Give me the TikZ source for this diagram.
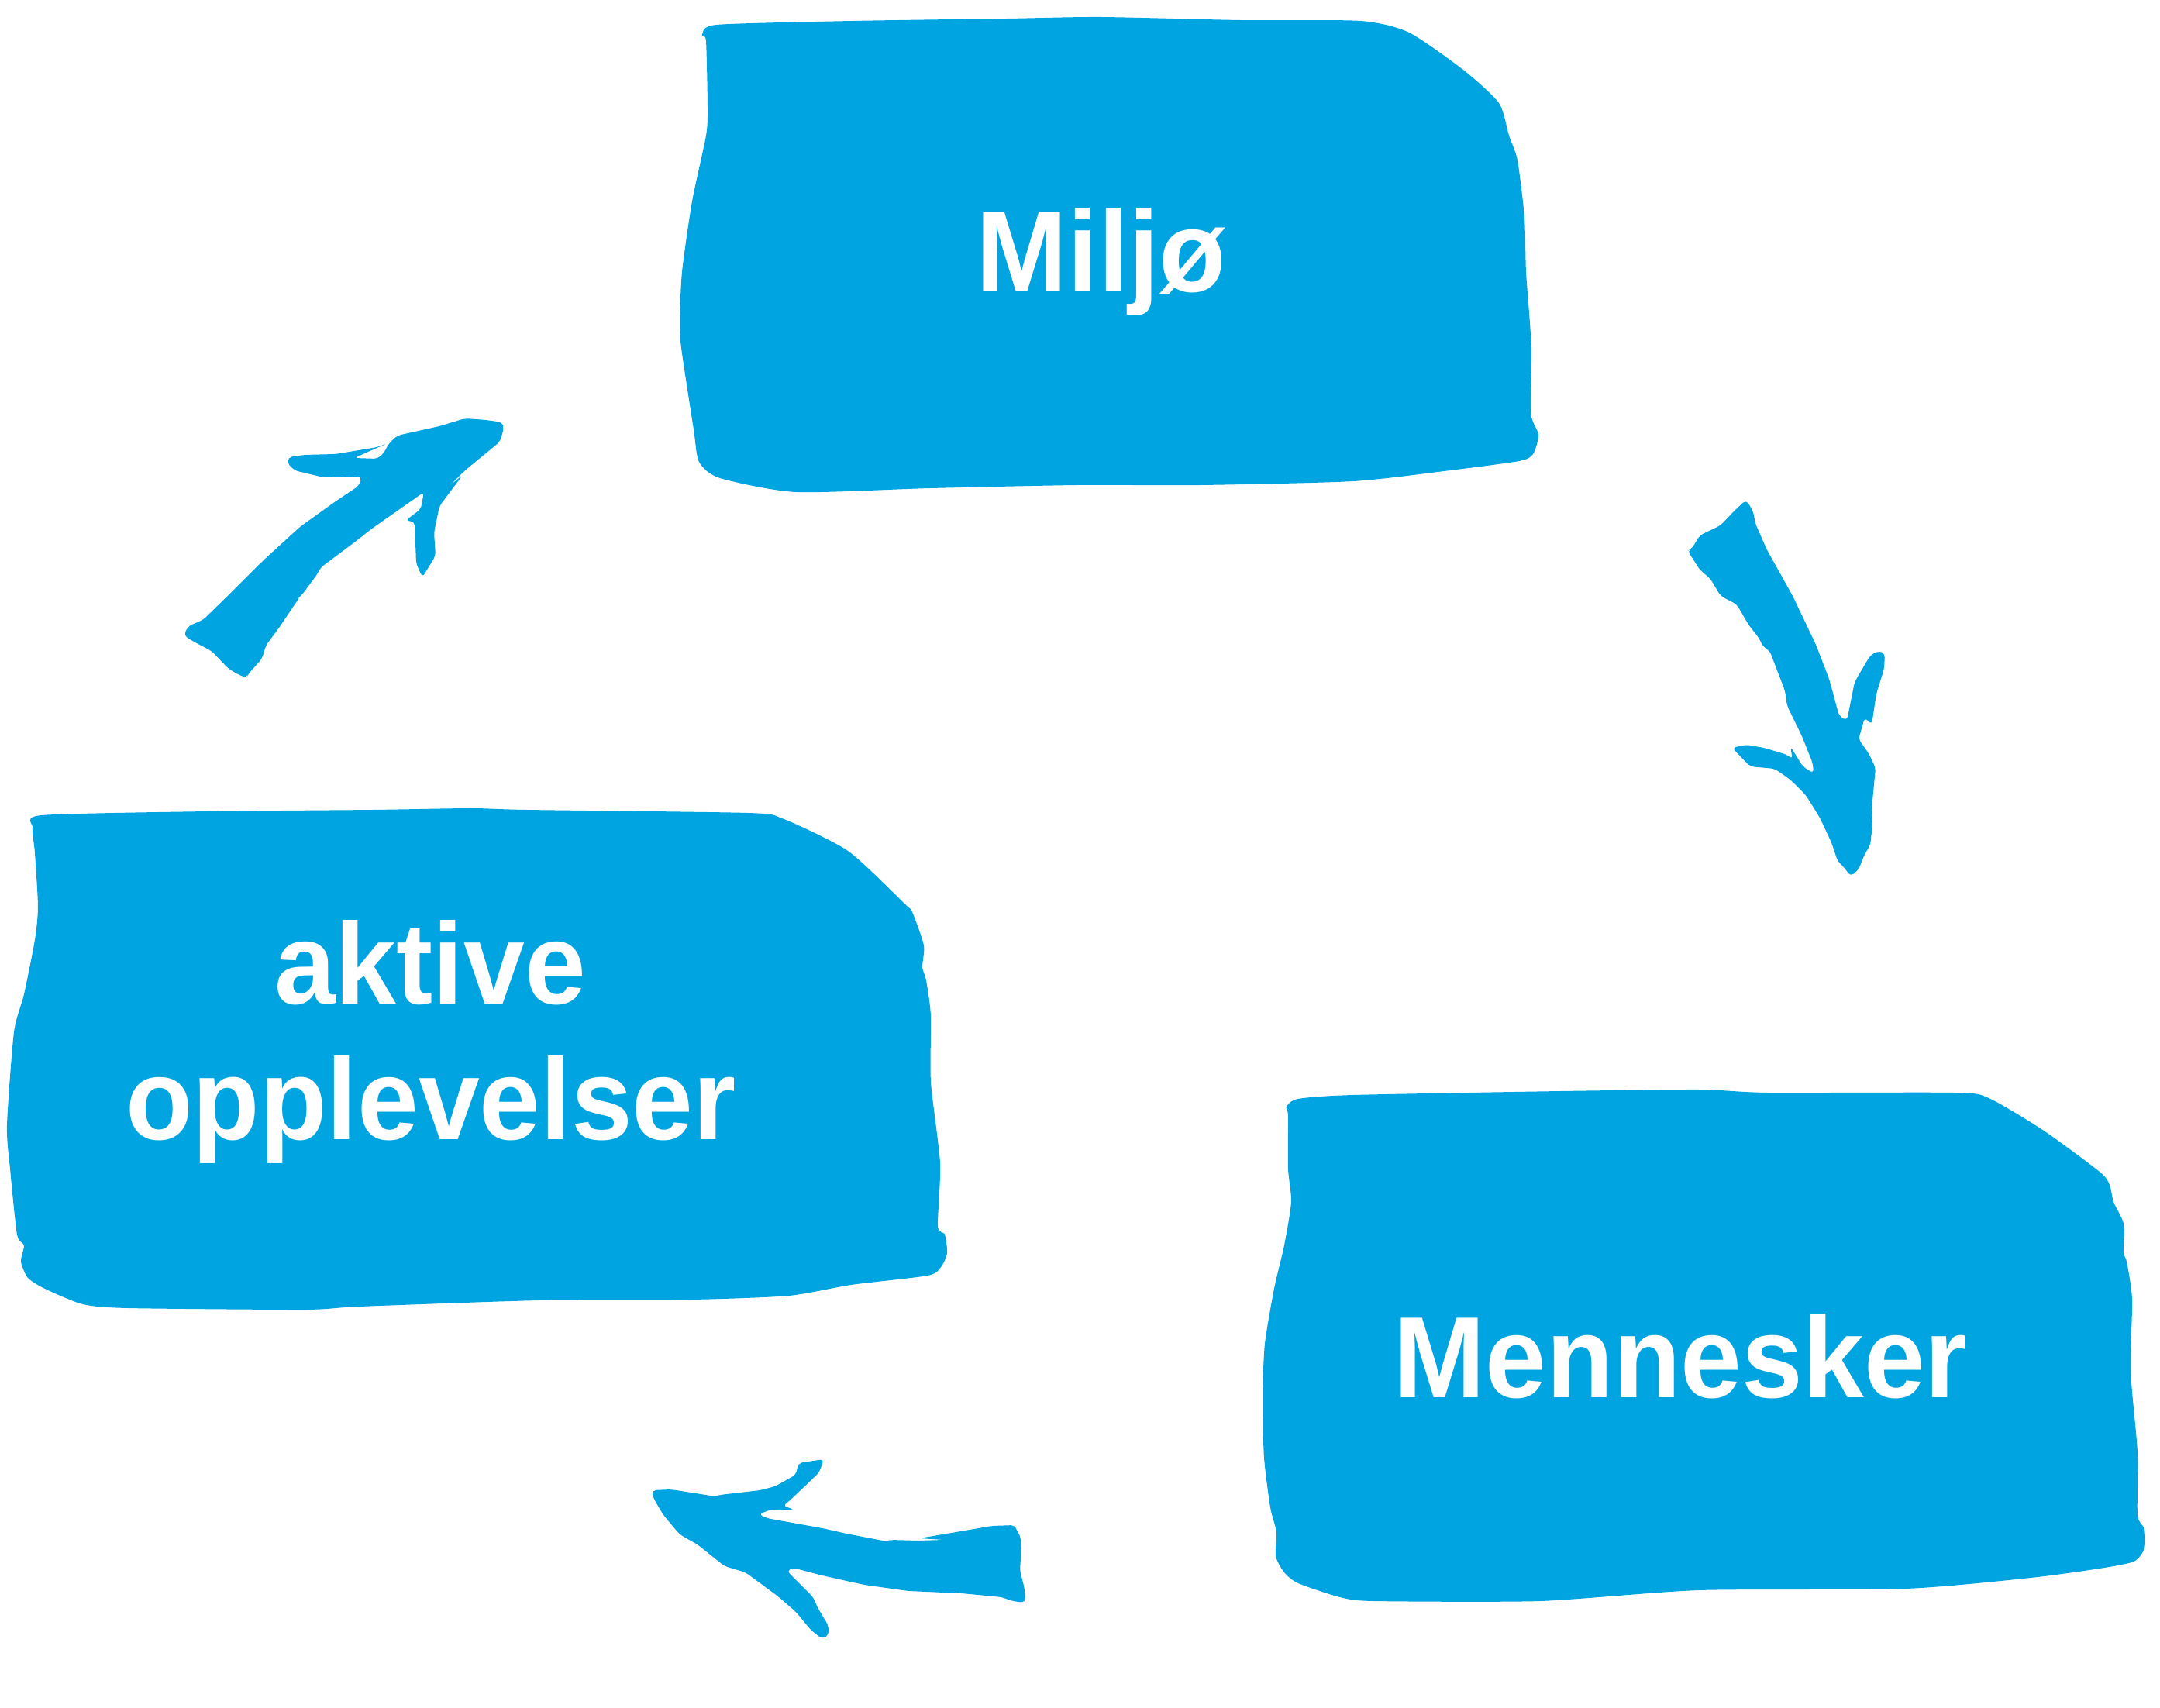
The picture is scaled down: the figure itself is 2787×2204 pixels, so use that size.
\documentclass[tikz,border=0pt]{standalone}
\usepackage{fontspec}
\usepackage{xcolor}
\newfontfamily\boxfont{Liberation Sans}[FakeStretch=0.95]
\definecolor{brandblue}{HTML}{00A4E1}
\tikzset{
  brush/.style={fill=brandblue, draw=none},
  brushstroke/.style={brush, rounded corners=1.5pt},
  boxtext/.style={text=white, font=\boxfont\bfseries\fontsize{42.4}{50}\selectfont, anchor=base, inner sep=0pt}
}

\begin{document}
\begin{tikzpicture}[x=0.01cm, y=-0.01cm]
  \useasboundingbox (0,0) rectangle (2787,2204);
  % brush boxes
  \fill[brush] plot[smooth cycle, tension=0.4] coordinates {(906,45) (925,32) (1100,27) (1300,24) (1420,22) (1600,26) (1755,27) (1818,42) (1889,91) (1934,133) (1947,175) (1958,207) (1967,281) (1969,351) (1976,449) (1975,533) (1985,561) (1978,586) (1960,595) (1871,607) (1746,621) (1550,626) (1390,626) (1200,630) (1027,635) (929,617) (902,596) (895,554) (880,456) (877,421) (880,351) (893,260) (911,175) (913,140) (911,53)};
  \fill[brush] plot[smooth cycle, tension=0.4] coordinates {(42,1068) (54,1052) (268,1047) (482,1045) (607,1043) (679,1045) (964,1049) (1009,1056) (1094,1098) (1168,1167) (1177,1177) (1192,1220) (1190,1248) (1195,1265) (1201,1311) (1201,1396) (1213,1501) (1210,1582) (1219,1593) (1222,1617) (1214,1635) (1197,1646) (1098,1658) (1018,1672) (893,1677) (695,1678) (464,1686) (393,1690) (165,1688) (107,1683) (58,1663) (36,1649) (27,1628) (31,1607) (22,1593) (13,1508) (9,1452) (18,1332) (31,1283) (45,1213) (49,1170) (45,1100)};
  \fill[brush] plot[smooth cycle, tension=0.4] coordinates {(1660,1428) (1675,1418) (1746,1413) (2014,1408) (2192,1406) (2281,1410) (2522,1410) (2566,1417) (2637,1459) (2709,1512) (2722,1529) (2727,1551) (2740,1579) (2740,1617) (2744,1628) (2751,1677) (2749,1769) (2758,1874) (2758,1955) (2767,1973) (2767,1998) (2753,2015) (2709,2024) (2620,2036) (2459,2050) (2192,2052) (1987,2066) (1773,2066) (1729,2061) (1675,2043) (1657,2029) (1646,2008) (1647,1977) (1639,1945) (1631,1881) (1629,1804) (1632,1734) (1644,1663) (1657,1607) (1666,1551) (1662,1508) (1662,1440)};
  % brush arrows
  \fill[brushstroke] (237,820) -- (243,808) -- (262,800) -- (300,763) -- (340,723) -- (387,680) -- (433,647) -- (463,627) -- (467,615) -- (417,616) -- (380,607) -- (371,598) -- (372,590) -- (393,587) -- (433,586) -- (487,577) -- (500,572) -- (457,591) -- (487,592) -- (495,585) -- (502,572) -- (513,562) -- (567,550) -- (600,540) -- (627,542) -- (648,545) -- (650,553) -- (645,570) -- (600,607) -- (580,627) -- (597,613) -- (567,653) -- (560,687) -- (562,717) -- (545,745) -- (537,727) -- (535,673) -- (523,672) -- (543,657) -- (547,635) -- (480,682) -- (457,700) -- (413,733) -- (410,740) -- (390,767) -- (367,790) -- (387,770) -- (360,810) -- (343,833) -- (338,850) -- (320,870) -- (318,875) -- (307,870) -- (295,863) -- (273,840) -- (250,828) -- cycle;
  \fill[brushstroke] (2253,645) -- (2262,660) -- (2265,676) -- (2280,710) -- (2313,769) -- (2343,832) -- (2360,876) -- (2366,898) -- (2373,924) -- (2383,930) -- (2393,880) -- (2413,846) -- (2423,840) -- (2432,843) -- (2431,863) -- (2421,895) -- (2415,935) -- (2406,926) -- (2398,954) -- (2411,972) -- (2420,991) -- (2415,1043) -- (2416,1065) -- (2413,1091) -- (2406,1102) -- (2398,1122) -- (2388,1131) -- (2380,1120) -- (2371,1111) -- (2363,1087) -- (2348,1055) -- (2330,1026) -- (2310,1006) -- (2290,992) -- (2258,989) -- (2235,965) -- (2253,961) -- (2276,965) -- (2306,974) -- (2313,980) -- (2310,963) -- (2326,989) -- (2340,998) -- (2339,985) -- (2325,950) -- (2306,911) -- (2303,891) -- (2283,839) -- (2275,835) -- (2270,824) -- (2256,806) -- (2241,780) -- (2220,769) -- (2207,747) -- (2193,735) -- (2183,719) -- (2177,711) -- (2183,708) -- (2193,691) -- (2220,678) -- (2237,660) -- cycle;
  \fill[brushstroke] (841,1923) -- (866,1922) -- (923,1931) -- (929,1929) -- (981,1923) -- (1000,1918) -- (1027,1903) -- (1030,1888) -- (1063,1883) -- (1057,1900) -- (1034,1922) -- (1017,1938) -- (1010,1943) -- (1025,1948) -- (994,1948) -- (979,1954) -- (989,1959) -- (1061,1972) -- (1092,1979) -- (1144,1989) -- (1149,1987) -- (1184,1988) -- (1218,1987) -- (1186,1985) -- (1222,1979) -- (1280,1969) -- (1310,1968) -- (1311,1975) -- (1316,1980) -- (1318,1995) -- (1316,2027) -- (1322,2050) -- (1323,2068) -- (1306,2066) -- (1293,2061) -- (1241,2056) -- (1172,2053) -- (1115,2045) -- (1061,2033) -- (1023,2023) -- (1015,2027) -- (1050,2062) -- (1054,2073) -- (1069,2098) -- (1069,2110) -- (1061,2115) -- (1046,2103) -- (1027,2080) -- (1004,2060) -- (962,2029) -- (935,2021) -- (900,1993) -- (877,1980) -- (856,1955) -- (843,1933) -- cycle;
  \node[boxtext] (miljo) at (1421,377) {Miljø};
  \node[boxtext] (aktive) at (555,1295) {aktive};
  \node[boxtext] (opplevelser) at (556,1470) {opplevelser};
  \node[boxtext] (mennesker) at (2169,1803) {Mennesker};
\end{tikzpicture}
\end{document}
